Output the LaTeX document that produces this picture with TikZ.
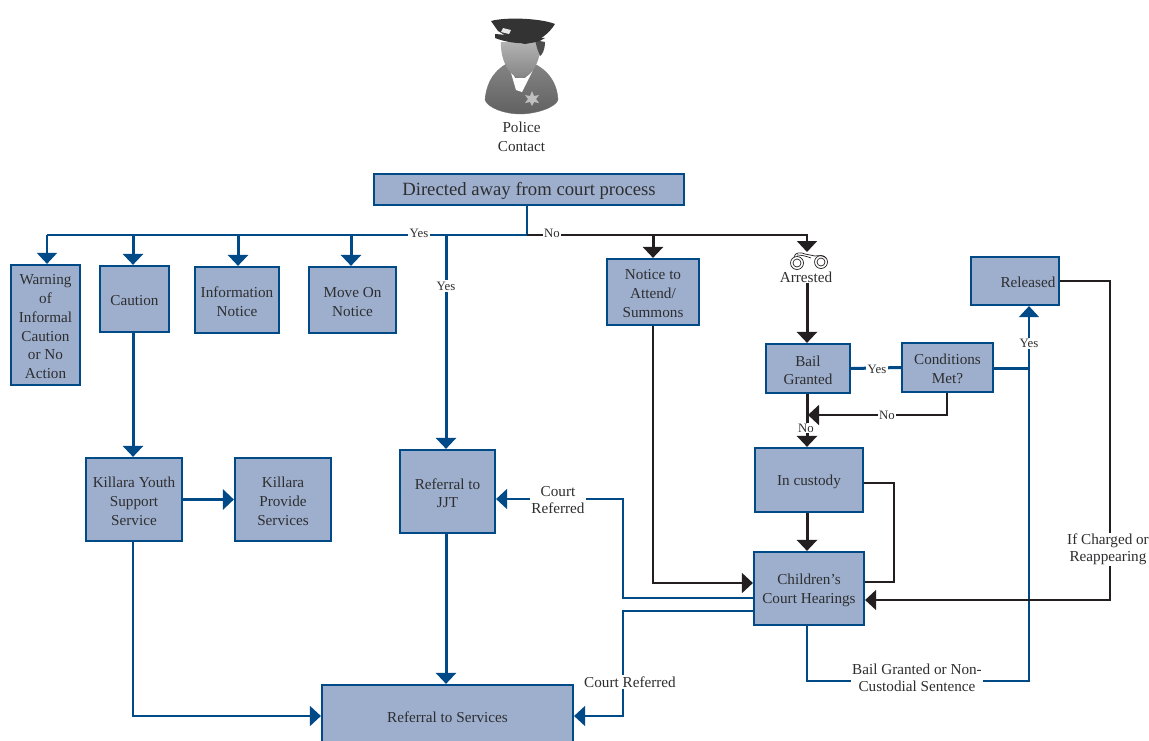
\documentclass[tikz,border=0pt]{standalone}
\usepackage{fontspec}
\setmainfont{Liberation Serif}
\usetikzlibrary{arrows.meta,calc}
\definecolor{boxfill}{HTML}{9DAFCD}
\definecolor{navy}{HTML}{004A87}
\definecolor{inkb}{HTML}{231F20}
\definecolor{txt}{HTML}{2E2E30}
\tikzset{
 box/.style={draw=navy,line width=2.2pt,fill=boxfill,inner sep=0pt},
 ltext/.style={inner sep=0pt,align=center,text=txt,font=\fontsize{15.2}{18.8}\selectfont,yshift=-1.7pt,draw=none,fill=none},
 boxt/.style={label={[ltext]center:{#1}}},
 lab/.style={fill=white,inner sep=1.5pt,align=center,text=txt,font=\fontsize{15.2}{16.5}\selectfont},
 small/.style={fill=white,inner sep=1.5pt,text=txt,font=\fontsize{12.8}{14}\selectfont},
 plain/.style={inner sep=0pt,align=center,text=txt,font=\fontsize{15.2}{18.8}\selectfont},
 bl/.style={draw=navy,line width=1.8pt},
 blt/.style={draw=navy,line width=3pt},
 bk/.style={draw=inkb,line width=1.8pt},
 bkt/.style={draw=inkb,line width=3pt},
 tip/.style={-{Triangle[length=11pt,width=20pt]}},
 tipb/.style={-{Triangle[length=11pt,width=20pt]}}
}
\begin{document}
\begin{tikzpicture}[x=1pt,y=-1pt]
\useasboundingbox (0,0) rectangle (1149,740);
\clip (0,0) rectangle (1149,740);
% police figure
\shade[top color=black!48,bottom color=black!62,draw=black!55] (485,100) .. controls (487,78) and (498,68) .. (510,62) -- (530,62) .. controls (545,68) and (557,80) .. (558,100) .. controls (555,108) and (535,114) .. (520,114) .. controls (505,114) and (488,108) .. (485,100) -- cycle;
\fill[white] (509,66) -- (516,90) -- (522,92) -- (533,70) -- (525,78) -- (515,78) -- cycle;
\shade[top color=black!30,bottom color=black!48] (501,42) .. controls (500,60) and (510,78) .. (521,78) .. controls (532,78) and (541,60) .. (541,42) -- cycle;
\fill[black!70] (535,40) -- (545,42) .. controls (545,50) and (542,55) .. (540,56) -- (537,48) -- cycle;
\fill[black!80] (495,34) -- (545,38) .. controls (535,46) and (510,44) .. (495,38) -- cycle;
\fill[black!80] (491,21) .. controls (505,17) and (540,18) .. (555,24) .. controls (550,32) and (540,42) .. (525,44) .. controls (515,42) and (505,35) .. (498,31) -- cycle;
\fill[white!80!gray] (503,28) -- (511,30) -- (509,34) -- (501,32) -- cycle;
\fill[black!25] (530,96) -- (532,91) -- (534,96) -- (539,95) -- (536,99) -- (539,103) -- (534,102) -- (532,106) -- (530,102) -- (525,103) -- (528,99) -- (525,95) -- cycle;
\node[plain] (police) at (521.5,137) {Police\\Contact};
% boxes
\node[box,minimum width=310pt,minimum height=31pt,boxt={\fontsize{18.7}{20}\selectfont Directed away from court process}] (directed) at (529,189.5) {};
\node[box,minimum width=69pt,minimum height=120pt,boxt={Warning\\of\\Informal\\Caution\\or No\\Action}] (warn) at (45.5,325) {};
\node[box,minimum width=69pt,minimum height=66pt,boxt={Caution}] (caution) at (134.5,299) {};
\node[box,minimum width=84pt,minimum height=66pt,boxt={Information\\Notice}] (info) at (237,300) {};
\node[box,minimum width=87pt,minimum height=66pt,boxt={Move On\\Notice}] (moveon) at (352.5,300) {};
\node[box,minimum width=95pt,minimum height=83pt,boxt={Referral to\\JJT}] (jjt) at (447.5,491.5) {};
\node[box,minimum width=96pt,minimum height=83pt,boxt={Killara Youth\\Support\\Service}] (yss) at (134,499.5) {};
\node[box,minimum width=96pt,minimum height=83pt,boxt={Killara\\Provide\\Services}] (provide) at (283,499.5) {};
\node[box,minimum width=251pt,minimum height=62pt,boxt={Referral to Services}] (services) at (447.5,716) {};
\node[box,minimum width=92pt,minimum height=66pt,boxt={Notice to\\Attend/\\Summons}] (summons) at (653,292) {};
\node[box,minimum width=84pt,minimum height=49pt,boxt={Bail\\Granted}] (bail) at (808,368.5) {};
\node[box,minimum width=91pt,minimum height=49pt,boxt={Conditions\\Met?}] (cond) at (947.5,367.5) {};
\node[box,minimum width=88pt,minimum height=48pt,boxt={\hspace*{26pt}Released}] (released) at (1015,281) {};
\node[box,minimum width=108pt,minimum height=64pt,boxt={In custody}] (custody) at (809,480) {};
\node[box,minimum width=110pt,minimum height=73pt,boxt={Children’s\\Court Hearings}] (court) at (809,588.5) {};
% junctions
\coordinate (jtop) at (527,235);
\coordinate (jw) at (47,235);
\coordinate (jc) at (133,235);
\coordinate (ji) at (238,235);
\coordinate (jm) at (351,235);
\coordinate (jj) at (446,235);
\coordinate (js) at (653,235);
\coordinate (ja) at (807,235);
\coordinate (cuff) at (807,252);
% arrested
\node[plain] (arrested) at (806,277) {Arrested};
% connectors blue
\draw[bl] (directed.south -| jtop) -- (jtop);
\draw[bl] (jtop) -- (jw);
\draw[bl,tip] (jw) -- (jw |- warn.north);
\draw[blt,tip] (jc) -- (jc |- caution.north);
\draw[blt,tip] (ji) -- (ji |- info.north);
\draw[blt,tip] (jm) -- (jm |- moveon.north);
\draw[blt,tip] (jj) -- (jj |- jjt.north);
\draw[blt,tip] (jc |- caution.south) -- (jc |- yss.north);
\draw[blt,tip] (yss.east) -- (provide.west);
\draw[blt,tip] (jj |- jjt.south) -- (jj |- services.north);
\coordinate (ys) at (133,716);
\draw[bl,tip] (ys |- yss.south) -- (ys) -- (services.west |- ys);
% black top
\draw[bk,tip] (jtop) -- (ja) -- (cuff);
\draw[bkt,tipb] (js) -- (js |- summons.north);
\coordinate (sb) at (653,583);
\draw[bk,tip] (js |- summons.south) -- (sb) -- (court.west |- sb);
\draw[bkt,tipb] (arrested.south -| ja) -- (ja |- bail.north);
\draw[bkt,tipb] (ja |- bail.south) -- (ja |- custody.north);
\coordinate (cb) at (947,415);
\draw[bk,tip] (cb |- cond.south) -- (cb) -- (808,415);
\draw[bkt,tipb] (ja |- custody.south) -- (ja |- court.north);
\coordinate (cu1) at (894,483);
\coordinate (cu2) at (894,582);
\draw[bk] (custody.east |- cu1) -- (cu1) -- (cu2) -- (court.east |- cu2);
% bail yes
\draw[blt] (bail.east) -- (cond.west);
\coordinate (ry) at (1029,368);
\draw[blt] (cond.east |- ry) -- (ry);
\coordinate (rb) at (1029,681);
\coordinate (bb) at (807,681);
\draw[bl,tip] (ja |- court.south) -- (bb) -- (rb) -- (rb |- released.south);
% released to court
\coordinate (r1) at (1110,281);
\coordinate (r2) at (1110,600);
\draw[bk,tip] (released.east |- r1) -- (r1) -- (r2) -- (court.east |- r2);
% court referred
\coordinate (c1) at (623,598);
\coordinate (c2) at (623,499);
\coordinate (c3) at (623,611);
\coordinate (c4) at (623,716);
\draw[bl,tip] (court.west |- c1) -- (c1) -- (c2) -- (jjt.east |- c2);
\draw[bl,tip] (court.west |- c3) -- (c3) -- (c4) -- (services.east |- c4);
% labels
\node[small] (yes1) at (419,233) {Yes};
\node[small] (no1) at (552,233) {No};
\node[small] (yes2) at (446,286) {Yes};
\node[small] (yes3) at (877,369) {Yes};
\node[small] (yes4) at (1029,343.5) {Yes};
\node[small] (no2) at (887,415) {No};
\node[small,inner sep=0.5pt] (no3) at (806,428) {No};
\node[lab] (cr1) at (558,500) {Court\\Referred};
\node[lab] (cr2) at (630,682) {Court Referred};
\node[lab] (bg) at (917,678) {Bail Granted or Non-\\Custodial Sentence};
\node[lab] (ifc) at (1108,549.5) {If Charged or\\Reappearing};
% handcuffs
\begin{scope}[draw=inkb,line width=.7pt]
\draw (797,263) circle (6.5pt); \draw (797,263) circle (4pt);
\draw (821,262) circle (6.5pt); \draw (821,262) circle (4pt);
\draw (794,257) .. controls (795,252) and (801,252) .. (805,254) -- (815,256) .. controls (820,255) and (824,256) .. (826,258);
\draw (797,255) .. controls (801,255) and (806,256) .. (811,258);
\end{scope}
\end{tikzpicture}
\end{document}
